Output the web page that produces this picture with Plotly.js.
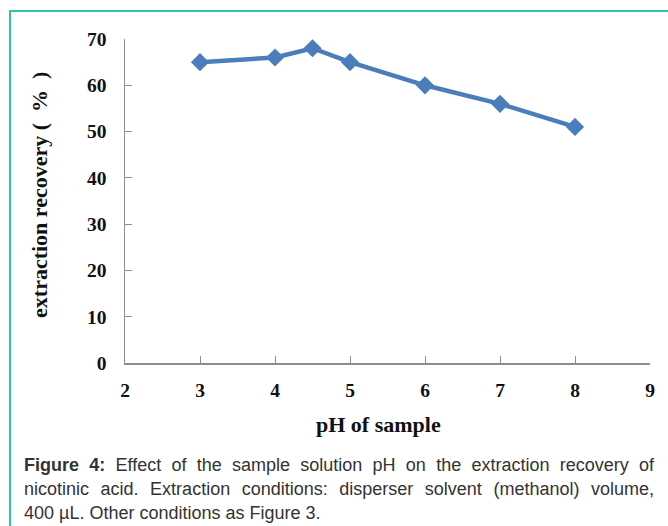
<!DOCTYPE html>
<html>
<head>
<meta charset="utf-8">
<script src="https://cdn.plot.ly/plotly-3.0.1.min.js"></script>
<style>
  html, body { margin: 0; padding: 0; background: #fff; }
  #wrap { position: relative; width: 668px; height: 526px; overflow: hidden; }
  #frame { position: absolute; left: 9px; top: 10px; width: 700px; height: 600px;
           border-left: 2px solid #2ec4aa; border-top: 2px solid #2ec4aa; box-sizing: border-box; }
  #chart { position: absolute; left: 0; top: 0; width: 668px; height: 526px; }
  #caption { position: absolute; left: 24px; top: 453px; width: 630px;
             font-family: "Liberation Sans", Arial, sans-serif; font-size: 18px; line-height: 24px;
             color: #333; }
  #caption .j { text-align: justify; text-align-last: justify; white-space: nowrap; }
  #caption .l { text-align: left; white-space: nowrap; }
  #caption b { color: #333; }
</style>
</head>
<body>
<div id="wrap">
  <div id="frame"></div>
  <div id="chart"></div>
  <div id="caption">
    <div class="j"><b>Figure 4:</b> Effect of the sample solution pH on the extraction recovery of</div>
    <div class="j">nicotinic acid. Extraction conditions: disperser solvent (methanol) volume,</div>
    <div class="l">400 µL. Other conditions as Figure 3.</div>
  </div>
</div>
<script>
const phValues = [3, 4, 4.5, 5, 6, 7, 8];
const recovery = [65, 66, 68, 65, 60, 56, 51];
const xTicks = [2, 3, 4, 5, 6, 7, 8, 9];
const yTicks = [0, 10, 20, 30, 40, 50, 60, 70];
const xTitle = "pH of sample";
const yTitle = "extraction recovery (  %  )";

const serif = "Liberation Serif, Times New Roman, serif";
const trace = {
  x: phValues, y: recovery, type: "scatter", mode: "lines+markers",
  line: { color: "#4a7ebb", width: 4.5 },
  marker: { symbol: "diamond", size: 14, color: "#4a7ebb" },
  cliponaxis: false, hoverinfo: "skip"
};
const layout = {
  width: 668, height: 526,
  margin: { l: 125, r: 18, t: 39, b: 163 },
  paper_bgcolor: "rgba(0,0,0,0)", plot_bgcolor: "rgba(0,0,0,0)",
  showlegend: false,
  xaxis: {
    range: [2, 9], tickvals: xTicks, ticktext: xTicks.map(String),
    showgrid: false, zeroline: false, showline: true, linecolor: "#8c8c8c", linewidth: 1.5,
    ticks: "inside", ticklen: 7, tickcolor: "#8c8c8c", tickwidth: 1,
    tickfont: { family: serif, size: 19.5, color: "#111", weight: "bold" },
    ticklabelstandoff: 9
  },
  yaxis: {
    range: [0, 70], tickvals: yTicks, ticktext: yTicks.map(String),
    showgrid: false, zeroline: false, showline: true, linecolor: "#8c8c8c", linewidth: 1.5,
    ticks: "inside", ticklen: 7, tickcolor: "#8c8c8c", tickwidth: 1,
    tickfont: { family: serif, size: 19.5, color: "#111", weight: "bold" },
    ticklabelstandoff: 13
  },
  annotations: [
    { text: "<b>" + xTitle + "</b>", xref: "paper", yref: "paper", x: 0.483, y: -0.19,
      xanchor: "center", yanchor: "middle", showarrow: false,
      font: { family: serif, size: 22, color: "#111" } },
    { text: "<b>" + yTitle + "</b>", xref: "paper", yref: "paper", x: -0.163, y: 0.52,
      xanchor: "center", yanchor: "middle", textangle: -90, showarrow: false,
      font: { family: serif, size: 22, color: "#111" } }
  ]
};
Plotly.newPlot("chart", [trace], layout, { displayModeBar: false, staticPlot: true });
</script>
</body>
</html>
